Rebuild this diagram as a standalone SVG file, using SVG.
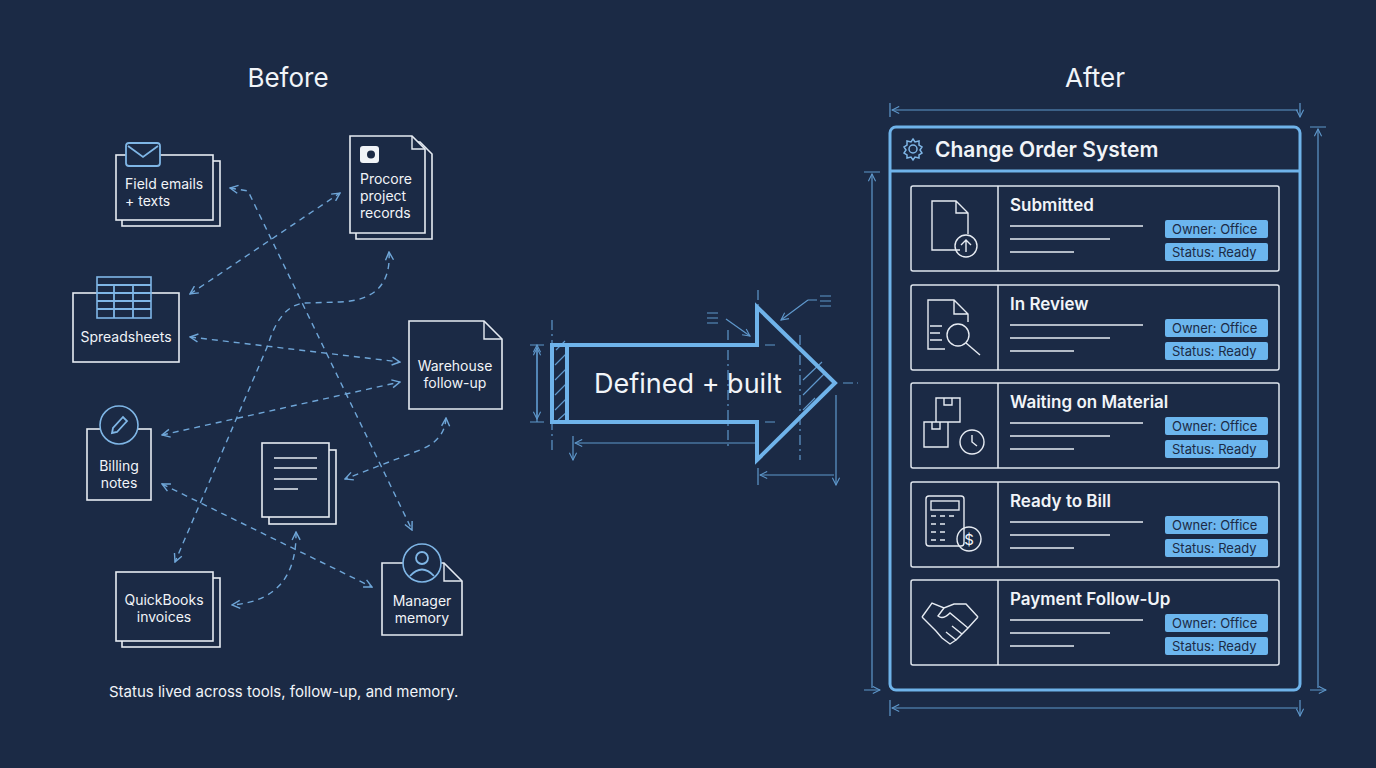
<svg xmlns="http://www.w3.org/2000/svg" width="1376" height="768" viewBox="0 0 1376 768">
<defs>
<style>
text{font-family:Inter,"Noto Sans","Liberation Sans",sans-serif;fill:#f1f4f8}
.n{fill:#1b2a45;stroke:#e6ebf2;stroke-width:1.6}
.ic{fill:none;stroke:#7fb6e6;stroke-width:1.8}
.c{fill:none;stroke:#6fa6d8;stroke-width:1.4;stroke-dasharray:6 5}
.lbl{font-size:14px;text-anchor:middle}
.blue{fill:none;stroke:#6fb3ea;stroke-width:4}
.thin{fill:none;stroke:#5f98cc;stroke-width:1.2}
.card{fill:#1b2a45;stroke:#dfe6ee;stroke-width:1.5}
.ln{stroke:#e6ebf2;stroke-width:1.5}
.badge{fill:#6cb6ee}
.bt{font-size:13px;fill:#1b2a45}
.ct{font-size:17px;font-weight:600}
.wi{fill:none;stroke:#e6ebf2;stroke-width:1.4}
</style>
<marker id="a" viewBox="0 0 10 10" refX="9" refY="5" markerWidth="10" markerHeight="10" orient="auto-start-reverse" markerUnits="userSpaceOnUse"><path d="M1,1 L9,5 L1,9" fill="none" stroke="#6fa6d8" stroke-width="1.4"/></marker>
<marker id="d" viewBox="0 0 10 10" refX="9" refY="5" markerWidth="9" markerHeight="9" orient="auto-start-reverse" markerUnits="userSpaceOnUse"><path d="M1,1 L9,5 L1,9" fill="none" stroke="#5f98cc" stroke-width="1.2"/></marker>
</defs>
<rect width="1376" height="768" fill="#1b2a45"/>
<text x="288" y="87" font-size="26" text-anchor="middle">Before</text>
<text x="1095" y="87" font-size="26" text-anchor="middle">After</text>

<g id="connectors">
<path class="c" d="M230,188 L248,191 L412,530" marker-start="url(#a)" marker-end="url(#a)"/>
<path class="c" d="M190,294 L340,193" marker-start="url(#a)" marker-end="url(#a)"/>
<path class="c" d="M389,252 Q392,300 340,302 L305,303 Q280,305 268,345 L175,562" marker-start="url(#a)" marker-end="url(#a)"/>
<path class="c" d="M190,337 L400,362" marker-start="url(#a)" marker-end="url(#a)"/>
<path class="c" d="M162,435 L400,382" marker-start="url(#a)" marker-end="url(#a)"/>
<path class="c" d="M446,418 Q445,440 420,450 L345,479" marker-start="url(#a)" marker-end="url(#a)"/>
<path class="c" d="M162,484 L372,587" marker-start="url(#a)" marker-end="url(#a)"/>
<path class="c" d="M296,532 Q297,600 232,605" marker-start="url(#a)" marker-end="url(#a)"/>
</g>

<g id="field-emails">
<rect class="n" x="122" y="161" width="98" height="65"/>
<rect class="n" x="116" y="155" width="97" height="65"/>
<rect x="126" y="143" width="34" height="23" rx="3" fill="#1b2a45" stroke="#7fb6e6" stroke-width="1.8"/>
<path class="ic" d="M128,146 L143,157 L158,146"/>
<text x="125" y="189" font-size="14">Field emails</text>
<text x="125" y="206" font-size="14">+ texts</text>
</g>
<g id="procore">
<path class="n" d="M356,142 H420 L432,154 V239 H356 Z"/>
<path class="n" d="M350,136 H412 L425,149 V233 H350 Z"/>
<path class="wi" d="M412,136 V149 H425"/>
<rect x="360" y="146" width="19" height="17" rx="3" fill="#f1f4f8"/>
<circle cx="371" cy="154.5" r="4" fill="#1b2a45"/>
<text x="360" y="184" font-size="14">Procore</text>
<text x="360" y="201" font-size="14">project</text>
<text x="360" y="218" font-size="14">records</text>
</g>
<g id="spreadsheets">
<rect class="n" x="73" y="293" width="106" height="69"/>
<rect x="97" y="277" width="54" height="41" fill="#1b2a45" stroke="#7fb6e6" stroke-width="1.6"/>
<path class="ic" stroke-width="1.2" d="M97,285 H151 M97,293 H151 M97,301 H151 M97,309 H151 M114,285 V318 M133,285 V318"/>
<text class="lbl" x="126" y="342">Spreadsheets</text>
</g>
<g id="warehouse">
<path class="n" d="M409,321 H484 L502,339 V409 H409 Z"/>
<path class="wi" d="M484,321 V339 H502"/>
<text class="lbl" x="455" y="371">Warehouse</text>
<text class="lbl" x="455" y="388">follow-up</text>
</g>
<g id="billing">
<rect class="n" x="87" y="429" width="64" height="71"/>
<circle cx="119" cy="425" r="19" fill="#1b2a45" stroke="#7fb6e6" stroke-width="1.6"/>
<path class="ic" stroke-width="1.5" d="M112,433 L113,428 L123,417 L127,421 L117,432 Z"/>
<text class="lbl" x="119" y="471">Billing</text>
<text class="lbl" x="119" y="488">notes</text>
</g>
<g id="document">
<rect class="n" x="269" y="450" width="67" height="74"/>
<rect class="n" x="262" y="443" width="67" height="74"/>
<path class="wi" stroke-width="1.6" d="M274,458 H317 M274,468 H317 M274,479 H317 M274,489 H298"/>
</g>
<g id="quickbooks">
<rect class="n" x="122" y="578" width="98" height="69"/>
<rect class="n" x="116" y="572" width="97" height="69"/>
<text class="lbl" x="164" y="605">QuickBooks</text>
<text class="lbl" x="164" y="622">invoices</text>
</g>
<g id="manager">
<path class="n" d="M382,563 H444 L462,581 V635 H382 Z"/>
<path class="wi" d="M444,563 V581 H462"/>
<circle cx="422" cy="563" r="19" fill="#1b2a45" stroke="#7fb6e6" stroke-width="1.6"/>
<circle class="ic" stroke-width="1.5" cx="422" cy="558" r="6"/>
<path class="ic" stroke-width="1.5" d="M410,576 Q422,563 434,576"/>
<text class="lbl" x="422" y="606">Manager</text>
<text class="lbl" x="422" y="623">memory</text>
</g>
<text x="109" y="697" font-size="15">Status lived across tools, follow-up, and memory.</text>

<g id="arrow">
<path class="thin" stroke-dasharray="10 4 2 4" d="M552,320 V450 M728,330 V450 M758,290 V310 M800,335 V460 M843,383 H858"/>
<path class="thin" d="M537,345 V422 M530,345 H544 M530,422 H544" marker-start="url(#d)"/>
<path class="thin" d="M537,348 V419" marker-start="url(#d)" marker-end="url(#d)"/>
<path class="thin" d="M575,443 H755 M573,436 V460" marker-start="url(#d)" marker-end="url(#d)"/>
<path class="thin" d="M760,475 H834 M758,468 V485 M836,395 V485" marker-start="url(#d)" marker-end="url(#d)"/>
<path class="thin" d="M726,319 L750,336" marker-end="url(#d)"/>
<path class="thin" d="M707,313 H718 M707,318 H718 M707,323 H718 M808,300 L781,320" marker-end="url(#d)"/>
<path class="thin" d="M808,300 H817 M820,296 H831 M820,301 H831 M820,306 H831 M765,345 H775 M765,422 H775"/>
<path class="thin" d="M556,350 L565,341 M555,365 L567,353 M555,380 L567,368 M555,395 L567,383 M555,410 L567,398 M558,420 L567,412 M803,380 L822,362 M803,395 L826,372 M803,410 L815,398"/>
<path class="blue" d="M552,345 H757 V307 L835,383 L757,460 V422 H552 Z"/>
<path class="blue" stroke-width="2.5" d="M567,345 V422"/>
<text x="688" y="393" font-size="27" text-anchor="middle">Defined + built</text>
</g>

<g id="system">
<path class="thin" d="M892,110 H1298 M890,103 V117 M1300,103 V117" marker-start="url(#d)" marker-end="url(#d)"/>
<path class="thin" d="M892,708 H1298 M890,700 V716 M1300,700 V716" marker-start="url(#d)" marker-end="url(#d)"/>
<path class="thin" d="M872,174 V688 M864,172 H880 M864,690 H880" marker-start="url(#d)" marker-end="url(#d)"/>
<path class="thin" d="M1318,129 V688 M1310,127 H1326 M1310,690 H1326" marker-start="url(#d)" marker-end="url(#d)"/>
<rect x="890" y="127" width="410" height="563" rx="6" fill="#1b2a45" stroke="#6fb3ea" stroke-width="3"/>
<line x1="890" y1="171" x2="1300" y2="171" stroke="#6fb3ea" stroke-width="3"/>
<g fill="none" stroke="#7fb6e6" stroke-width="1.5">
<circle cx="913" cy="149" r="4"/>
<path d="M913,139 L915,142 L919,141 L919,145 L922,147 L920,150 L922,153 L919,155 L919,158 L915,157 L913,160 L911,157 L907,158 L907,155 L904,153 L906,150 L904,147 L907,145 L907,141 L911,142 Z"/>
</g>
<text x="935" y="157" font-size="21" font-weight="600">Change Order System</text>
</g>

<g id="card-submitted">
<rect class="card" x="911" y="186" width="368" height="85" rx="2"/>
<line class="ln" x1="998" y1="186" x2="998" y2="271"/>
<path class="wi" d="M960,250 H932 V201 H956 L968,213 V234 M956,201 V213 H968"/>
<circle class="wi" cx="966" cy="246" r="11"/><path class="wi" d="M966,252 V240 M961,245 L966,240 L971,245"/>
<text class="ct" x="1010" y="211">Submitted</text>
<path class="ln" d="M1010,226 H1143 M1010,239 H1110 M1010,252 H1074"/>
<rect class="badge" x="1165" y="220" width="103" height="18" rx="2"/><text class="bt" x="1172" y="234">Owner: Office</text>
<rect class="badge" x="1165" y="243" width="103" height="18" rx="2"/><text class="bt" x="1172" y="257">Status: Ready</text>
</g>
<g id="card-review">
<rect class="card" x="911" y="285" width="368" height="85" rx="2"/>
<line class="ln" x1="998" y1="285" x2="998" y2="370"/>
<path class="wi" d="M945,349 H928 V300 H954 L968,314 V322 M954,300 V314 H968 M930,326 H942 M930,333 H940 M930,340 H942"/>
<circle class="wi" cx="958" cy="335" r="11"/><path class="wi" stroke-width="2.5" d="M966,343 L980,355"/>
<text class="ct" x="1010" y="310">In Review</text>
<path class="ln" d="M1010,325 H1143 M1010,338 H1110 M1010,351 H1074"/>
<rect class="badge" x="1165" y="319" width="103" height="18" rx="2"/><text class="bt" x="1172" y="333">Owner: Office</text>
<rect class="badge" x="1165" y="342" width="103" height="18" rx="2"/><text class="bt" x="1172" y="356">Status: Ready</text>
</g>
<g id="card-material">
<rect class="card" x="911" y="383" width="368" height="85" rx="2"/>
<line class="ln" x1="998" y1="383" x2="998" y2="468"/>
<path class="wi" d="M936,398 H960 V422 H936 Z M944,398 V405 H952 V398 M924,422 H948 V447 H924 Z M932,422 V429 H940 V422 M948,422 H958"/>
<circle class="wi" cx="972" cy="442" r="12"/><path class="wi" d="M972,435 V442 L977,446"/>
<text class="ct" x="1010" y="408">Waiting on Material</text>
<path class="ln" d="M1010,423 H1143 M1010,436 H1110 M1010,449 H1074"/>
<rect class="badge" x="1165" y="417" width="103" height="18" rx="2"/><text class="bt" x="1172" y="431">Owner: Office</text>
<rect class="badge" x="1165" y="440" width="103" height="18" rx="2"/><text class="bt" x="1172" y="454">Status: Ready</text>
</g>
<g id="card-bill">
<rect class="card" x="911" y="482" width="368" height="85" rx="2"/>
<line class="ln" x1="998" y1="482" x2="998" y2="567"/>
<rect class="wi" x="926" y="496" width="38" height="50" rx="3"/>
<rect class="wi" x="931" y="501" width="28" height="9"/>
<path class="wi" d="M931,516 h5 M940,516 h5 M949,516 h5 M931,524 h5 M940,524 h5 M931,532 h5 M940,532 h5 M931,540 h5 M940,540 h5"/>
<circle class="wi" cx="969" cy="539" r="12" fill="#1b2a45"/>
<text x="969" y="545" font-size="15" text-anchor="middle" fill="#e6ebf2">$</text>
<text class="ct" x="1010" y="507">Ready to Bill</text>
<path class="ln" d="M1010,522 H1143 M1010,535 H1110 M1010,548 H1074"/>
<rect class="badge" x="1165" y="516" width="103" height="18" rx="2"/><text class="bt" x="1172" y="530">Owner: Office</text>
<rect class="badge" x="1165" y="539" width="103" height="18" rx="2"/><text class="bt" x="1172" y="553">Status: Ready</text>
</g>
<g id="card-payment">
<rect class="card" x="911" y="580" width="368" height="85" rx="2"/>
<line class="ln" x1="998" y1="580" x2="998" y2="665"/>
<path class="wi" d="M922,617 L932,603 L944,608 L954,604 L966,604 L978,617 M922,617 L930,625 M978,617 L968,628 M944,608 L938,616 Q943,620 950,613 L968,628 L962,634 L952,626 M962,634 L956,640 L946,632 M956,640 L950,644 L942,638 M930,625 L936,631 L942,638"/>
<text class="ct" x="1010" y="605">Payment Follow-Up</text>
<path class="ln" d="M1010,620 H1143 M1010,633 H1110 M1010,646 H1074"/>
<rect class="badge" x="1165" y="614" width="103" height="18" rx="2"/><text class="bt" x="1172" y="628">Owner: Office</text>
<rect class="badge" x="1165" y="637" width="103" height="18" rx="2"/><text class="bt" x="1172" y="651">Status: Ready</text>
</g>
</svg>
